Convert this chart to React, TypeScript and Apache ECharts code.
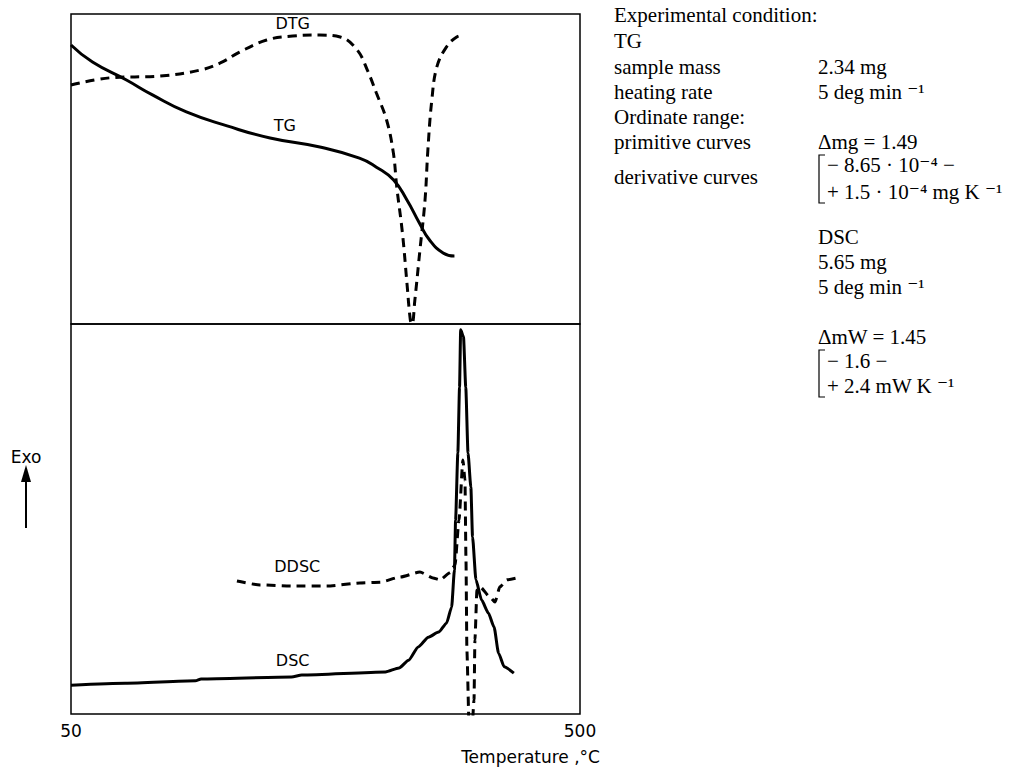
import React, { useEffect, useRef } from 'react';
import * as echarts from 'echarts';

// Temperature (°C) and relative ordinate (0-100 % of panel height)
const tgT = [50, 69, 99, 122, 152, 188, 226, 270, 305, 320, 335, 347, 358, 367, 379, 389];
const tgV = [90, 84.5, 78.7, 73.9, 68.4, 63.9, 60, 57.1, 53.5, 50.6, 46.5, 40, 32.6, 27.1, 22.9, 21.9];

const dtgT = [50, 84, 129, 164, 182, 199, 223, 246, 270, 288, 303, 312, 320, 329, 335, 338, 343, 347, 350, 351.5, 354, 358.5, 363, 365.5, 369, 373.5, 382, 391, 398];
const dtgV = [77.1, 79.4, 80, 81.9, 84.2, 87.7, 91.6, 92.9, 93.2, 92.6, 88.4, 81.9, 74.5, 65.8, 55.2, 44.2, 29.4, 13.2, 1.3, 0, 7.7, 23.9, 40, 56.1, 72.3, 83, 89.4, 92.6, 93.2];

const dscT = [50, 98, 160, 165, 245, 254, 328, 340, 348.5, 357, 366, 375, 382, 386.5, 389, 390, 392, 393.5, 394.5, 397, 399, 401, 403.5, 405, 408, 413, 419, 424, 428, 433, 441.5];
const dscV = [7.4, 7.9, 8.5, 9.0, 9.5, 10, 10.8, 11.8, 13.8, 17.2, 19.7, 21, 23.3, 27.4, 36.9, 49.7, 66.9, 83.8, 98.5, 96.7, 83.8, 66.9, 58.2, 45.4, 34.4, 29.2, 25.9, 22.3, 15.6, 12.1, 10.5];

const ddscT = [196.7, 217, 246.2, 276.3, 305.5, 323.2, 340.8, 358.5, 370, 376.2, 385, 389.5, 393, 396.5, 398.3, 399.2, 400, 401.8, 404.5, 406.3, 407.1, 408.9, 411.6, 420.4, 424.8, 429.2, 435.4, 444.3];
const ddscV = [34.1, 33.1, 32.8, 32.8, 33.6, 33.8, 35.1, 36.4, 34.9, 34.4, 36.2, 38.2, 49.7, 65.1, 60, 39.5, 16.4, -1.5, -4, 3.6, 19, 31.8, 32.6, 30, 28.7, 32.6, 34.4, 34.9];

const xTickValues = [50, 500];
const xAxisName = 'Temperature ,°C';

const topLabelNames = ['DTG', 'TG'];
const topLabelT = [246, 239];
const topLabelV = [97, 64];
const botLabelNames = ['DDSC', 'DSC'];
const botLabelT = [250, 246];
const botLabelV = [37.7, 13.6];

const condLeft = [
  'Experimental condition:', 'TG', 'sample mass', 'heating rate', 'Ordinate range:', 'primitive curves', 'derivative curves',
];
const condRight = [
  '2.34 mg', '5 deg min ⁻¹', 'Δmg = 1.49', '− 8.65 · 10⁻⁴ −', '+ 1.5 · 10⁻⁴ mg K ⁻¹',
  'DSC', '5.65 mg', '5 deg min ⁻¹', 'ΔmW = 1.45', '− 1.6 −', '+ 2.4 mW K ⁻¹',
];

const zip = (a: number[], b: number[]) => a.map((v, i) => [v, b[i]]);

const SANS = 'DejaVu Sans, sans-serif';
const SERIF = 'Liberation Serif, DejaVu Serif, serif';

export default function App() {
  const ref = useRef<HTMLDivElement>(null);
  useEffect(() => {
    const chart = echarts.init(ref.current!, null, { renderer: 'svg' });
    const gridStyle = { show: true, borderColor: '#000', borderWidth: 1.5, backgroundColor: 'transparent' };
    const hiddenX = { type: 'value', min: 50, max: 500, axisLine: { show: false }, axisTick: { show: false }, axisLabel: { show: false }, splitLine: { show: false } };
    const hiddenY = { type: 'value', min: 0, max: 100, show: false, splitLine: { show: false } };
    const mk = (names: string[], ts: number[], vs: number[]) => ({
      symbol: 'circle',
      symbolSize: 0,
      silent: true,
      label: { show: true, position: 'inside', formatter: '{b}', color: '#000', fontSize: 16, fontFamily: SANS },
      data: names.map((n, i) => ({ name: n, coord: [ts[i], vs[i]] })),
    });
    const solid = { color: '#000', width: 3 };
    const dashed = { color: '#000', width: 3, type: [9, 6] };

    const L = 614;
    const R = 818;
    const fs = 21;
    const txt = (x: number, y: number, s: string) => ({
      type: 'text', x, y, style: { text: s, fill: '#000', font: `${fs}px ${SERIF}`, textVerticalAlign: 'middle', verticalAlign: 'middle' },
    });
    const rowsL = [15, 41, 67, 92, 117, 142, 177];
    const rightPos: [number, number][] = [
      [R, 67], [R, 92], [R, 142], [R + 9, 165], [R + 9, 192],
      [R, 237], [R, 262], [R, 287], [R, 337], [R + 9, 361], [R + 9, 386],
    ];

    chart.setOption({
      animation: false,
      backgroundColor: '#fff',
      grid: [
        { left: 71, top: 14, width: 509, height: 310, ...gridStyle },
        { left: 71, top: 324, width: 509, height: 390, ...gridStyle },
      ],
      xAxis: [
        { gridIndex: 0, ...hiddenX },
        {
          gridIndex: 1, ...hiddenX,
          axisLabel: { show: true, customValues: xTickValues, color: '#000', fontSize: 17, fontFamily: SANS, margin: 8 },
          name: xAxisName,
          nameLocation: 'end',
          nameGap: 20,
          nameTextStyle: { color: '#000', fontSize: 17, fontFamily: SANS, align: 'right', verticalAlign: 'top', padding: [34, 0, 0, 0] },
        },
      ],
      yAxis: [
        { gridIndex: 0, ...hiddenY },
        { gridIndex: 1, ...hiddenY },
      ],
      series: [
        { name: 'TG', type: 'line', xAxisIndex: 0, yAxisIndex: 0, data: zip(tgT, tgV), showSymbol: false, smooth: 0.5, lineStyle: solid, markPoint: mk(topLabelNames.slice(1), topLabelT.slice(1), topLabelV.slice(1)) },
        { name: 'DTG', type: 'line', xAxisIndex: 0, yAxisIndex: 0, data: zip(dtgT, dtgV), showSymbol: false, smooth: 0.4, lineStyle: dashed, markPoint: mk(topLabelNames.slice(0, 1), topLabelT.slice(0, 1), topLabelV.slice(0, 1)) },
        { name: 'DSC', type: 'line', xAxisIndex: 1, yAxisIndex: 1, data: zip(dscT, dscV), showSymbol: false, smooth: 0.2, smoothMonotone: 'x', lineStyle: solid, markPoint: mk(botLabelNames.slice(1), botLabelT.slice(1), botLabelV.slice(1)) },
        { name: 'DDSC', type: 'line', xAxisIndex: 1, yAxisIndex: 1, data: zip(ddscT, ddscV), showSymbol: false, smooth: 0.2, smoothMonotone: 'x', lineStyle: dashed, markPoint: mk(botLabelNames.slice(0, 1), botLabelT.slice(0, 1), botLabelV.slice(0, 1)) },
      ],
      graphic: [
        { type: 'text', x: 26, y: 457, style: { text: 'Exo', fill: '#000', font: `17px ${SANS}`, textAlign: 'center', textVerticalAlign: 'middle', align: 'center', verticalAlign: 'middle' } },
        { type: 'line', shape: { x1: 26, y1: 528, x2: 26, y2: 478 }, style: { stroke: '#000', lineWidth: 2 } },
        { type: 'polygon', shape: { points: [[21, 482], [31, 482], [26, 465]] }, style: { fill: '#000' } },
        ...condLeft.map((s, i) => txt(L, rowsL[i], s)),
        ...condRight.map((s, i) => txt(rightPos[i][0], rightPos[i][1], s)),
        { type: 'polyline', shape: { points: [[R + 7, 155], [R + 1, 155], [R + 1, 203], [R + 7, 203]] }, style: { stroke: '#000', lineWidth: 1.2, fill: 'none' } },
        { type: 'polyline', shape: { points: [[R + 7, 350], [R + 1, 350], [R + 1, 397], [R + 7, 397]] }, style: { stroke: '#000', lineWidth: 1.2, fill: 'none' } },
      ],
    });
    return () => chart.dispose();
  }, []);
  return <div ref={ref} style={{ position: 'absolute', left: 0, top: 0, width: 1018, height: 767 }} />;
}
